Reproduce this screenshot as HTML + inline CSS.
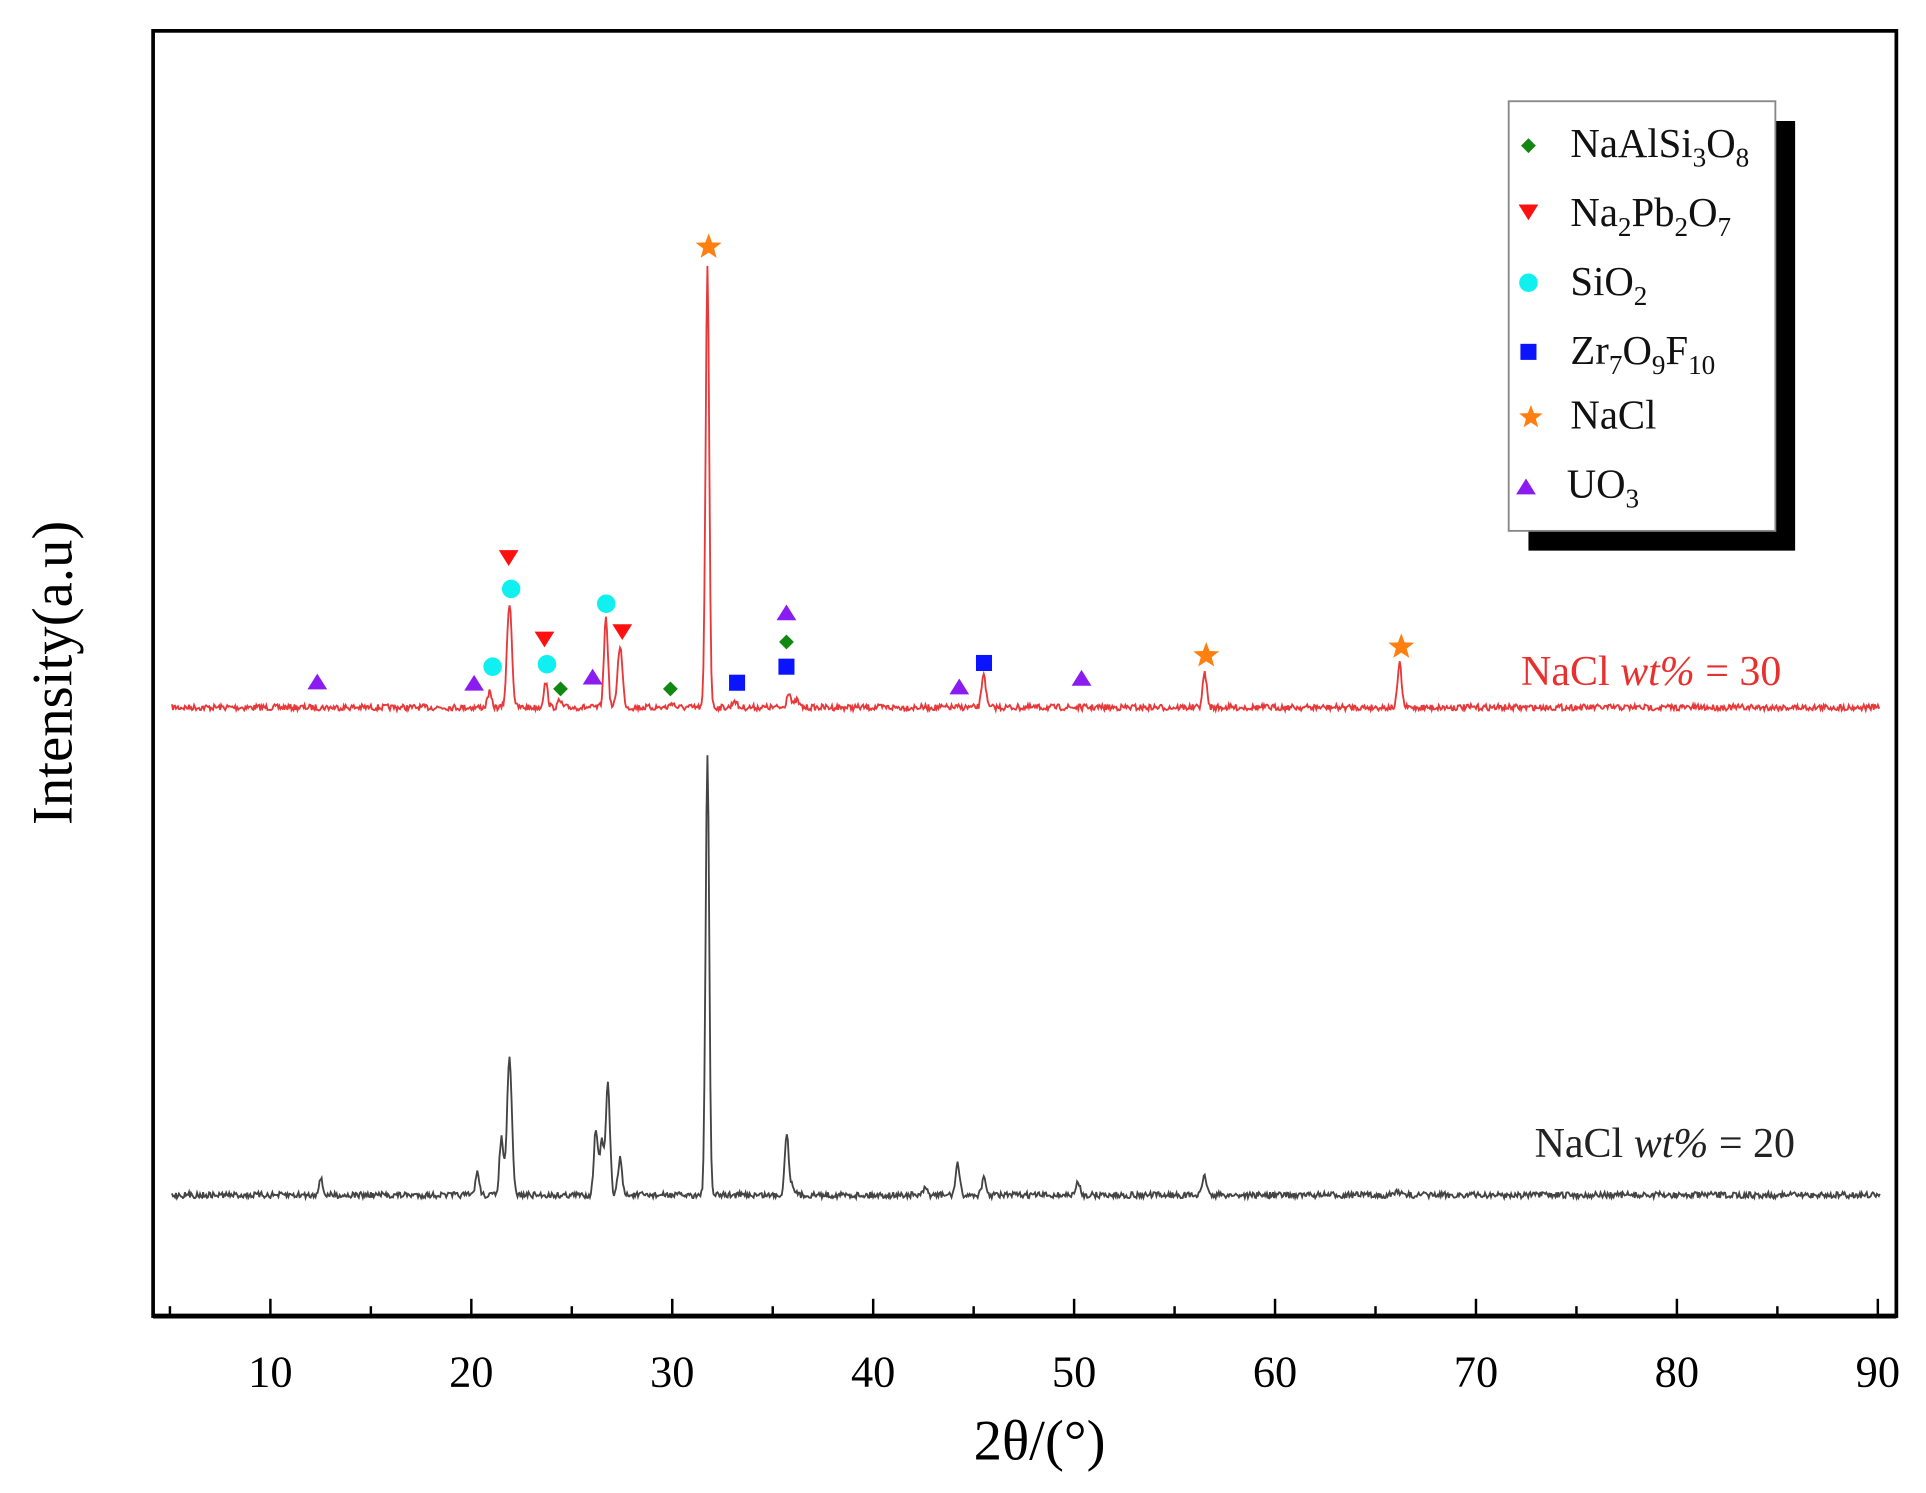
<!DOCTYPE html>
<html><head><meta charset="utf-8"><style>
html,body{margin:0;padding:0;background:#fff}
svg{display:block}
text{font-family:"Liberation Serif",serif}
</style></head><body>
<svg id="s" width="1926" height="1493" viewBox="0 0 1560 1209.3" xmlns="http://www.w3.org/2000/svg">
<rect x="0" y="0" width="1560" height="1209.3" fill="#fff"/>
<g id="traces"></g>
<rect x="124" y="25" width="1412" height="1041" fill="none" stroke="#000" stroke-width="3"/>
<line x1="124" y1="1066" x2="1536" y2="1066" stroke="#000" stroke-width="4"/>
<g id="ticks" stroke="#000" stroke-width="2"></g>
<g id="ticklabels" font-size="36" text-anchor="middle" fill="#000"></g>
<text x="842" y="1182" font-size="46" text-anchor="middle">2θ/(°)</text>
<text transform="translate(58,545) rotate(-90)" font-size="46" text-anchor="middle">Intensity(a.u)</text>
<g id="markers"></g>
<!-- legend -->
<rect x="1238" y="98" width="216" height="348" fill="#000"/>
<rect x="1222" y="82" width="216" height="348" fill="#fff" stroke="#888" stroke-width="1.5"/>
<g font-size="33" fill="#111">
<text x="1272" y="127">NaAlSi<tspan font-size="22" dy="8">3</tspan><tspan dy="-8">O</tspan><tspan font-size="22" dy="8">8</tspan></text>
<text x="1272" y="183">Na<tspan font-size="22" dy="8">2</tspan><tspan dy="-8">Pb</tspan><tspan font-size="22" dy="8">2</tspan><tspan dy="-8">O</tspan><tspan font-size="22" dy="8">7</tspan></text>
<text x="1272" y="239">SiO<tspan font-size="22" dy="8">2</tspan></text>
<text x="1272" y="295">Zr<tspan font-size="22" dy="8">7</tspan><tspan dy="-8">O</tspan><tspan font-size="22" dy="8">9</tspan><tspan dy="-8">F</tspan><tspan font-size="22" dy="8">10</tspan></text>
<text x="1272" y="347">NaCl</text>
<text x="1269" y="403">UO<tspan font-size="22" dy="8">3</tspan></text>
</g>
<g id="legm"></g>
<text x="1232" y="555" font-size="34" fill="#e8302f">NaCl <tspan font-style="italic">wt%</tspan> = 30</text>
<text x="1243" y="937" font-size="34" fill="#222">NaCl <tspan font-style="italic">wt%</tspan> = 20</text>
</svg>
<script>
var NS="http://www.w3.org/2000/svg";
var G='markers';
function X(d){return 219+(d-10)*16.275;}
function el(t,a,p){var e=document.createElementNS(NS,t);for(var k in a)e.setAttribute(k,a[k]);document.getElementById(p).appendChild(e);return e;}
for(var d=5;d<=90;d+=5){var maj=d%10==0;el('line',{x1:X(d),x2:X(d),y1:1066,y2:1066-(maj?14:8)},'ticks');
 if(maj){var t=el('text',{x:X(d),y:1123},'ticklabels');t.textContent=d;}}
var seed=7;function rnd(){seed=(seed*16807)%2147483647;return seed/2147483647;}
function trace(base,peaks,col){
 var pts=[];for(var d=5.1;d<=90.1;d+=0.05){var y=base+(rnd()-0.5)*5;
  for(var i=0;i<peaks.length;i++){var p=peaks[i],s=p[2]||0.1;y-=p[1]*Math.exp(-Math.pow((d-p[0])/s,2)/2);}
  pts.push(X(d).toFixed(1)+','+y.toFixed(1));}
 el('polyline',{points:pts.join(' '),fill:'none',stroke:col,'stroke-width':1.5},'traces');}
trace(573,[[20.9,12],[21.9,85,0.12],[23.7,20],[26.7,73,0.1],[27.4,50,0.12],[31.75,358,0.09],[33.1,6],[35.8,13],[36.2,6],[45.5,28],[56.5,28],[66.2,35],[24.4,5],[30,4]],'#e8383a');
trace(968,[[12.5,13],[20.3,18],[21.5,46],[21.9,110,0.12],[26.2,53],[26.5,43],[26.8,90,0.1],[27.4,30],[31.75,356,0.09],[35.7,50],[36,8],[44.2,25],[45.5,13],[50.2,10],[56.5,16],[42.6,5],[66.1,4]],'#444');
function tri(x,y,c,down){var s=8;var p=down?[[x-s,y-s*0.8],[x+s,y-s*0.8],[x,y+s*0.8]]:[[x-s,y+s*0.8],[x+s,y+s*0.8],[x,y-s*0.8]];
 el('polygon',{points:p.map(function(q){return q.join(',')}).join(' '),fill:c},G);}
function circ(x,y){el('circle',{cx:x,cy:y,r:7.5,fill:'#10f0f0'},G);}
function dia(x,y){el('polygon',{points:[x,y-6,x+6,y,x,y+6,x-6,y].join(','),fill:'#118811'},G);}
function sq(x,y){el('rect',{x:x-6.5,y:y-6.5,width:13,height:13,fill:'#0a14ff'},G);}
function star(x,y,r){var p=[];for(var i=0;i<10;i++){var a=-Math.PI/2+i*Math.PI/5,rr=i%2?r*0.42:r;p.push((x+rr*Math.cos(a)).toFixed(1)+','+(y+rr*Math.sin(a)).toFixed(1));}
 el('polygon',{points:p.join(' '),fill:'#ff7f10'},G);}
[[257,552],[384,553],[480,548],[637,496],[777,556],[876,549]].forEach(function(p){tri(p[0],p[1],'#8a1cf2');});
[[399,540],[414,477],[443,538],[491,489]].forEach(function(p){circ(p[0],p[1]);});
[[412,452],[441,518],[504,512]].forEach(function(p){tri(p[0],p[1],'#ff1010',true);});
[[454,558],[543,558],[637,520]].forEach(function(p){dia(p[0],p[1]);});
[[597,553],[637,540],[797,537]].forEach(function(p){sq(p[0],p[1]);});
[[574,200],[977,531],[1135,524]].forEach(function(p){star(p[0],p[1],11);});
G='legm';
dia(1238,118);tri(1238,172,'#ff1010',true);circ(1238,229);sq(1238,285);star(1240,338,10);tri(1236,394,'#8a1cf2');
</script>
</body></html>
